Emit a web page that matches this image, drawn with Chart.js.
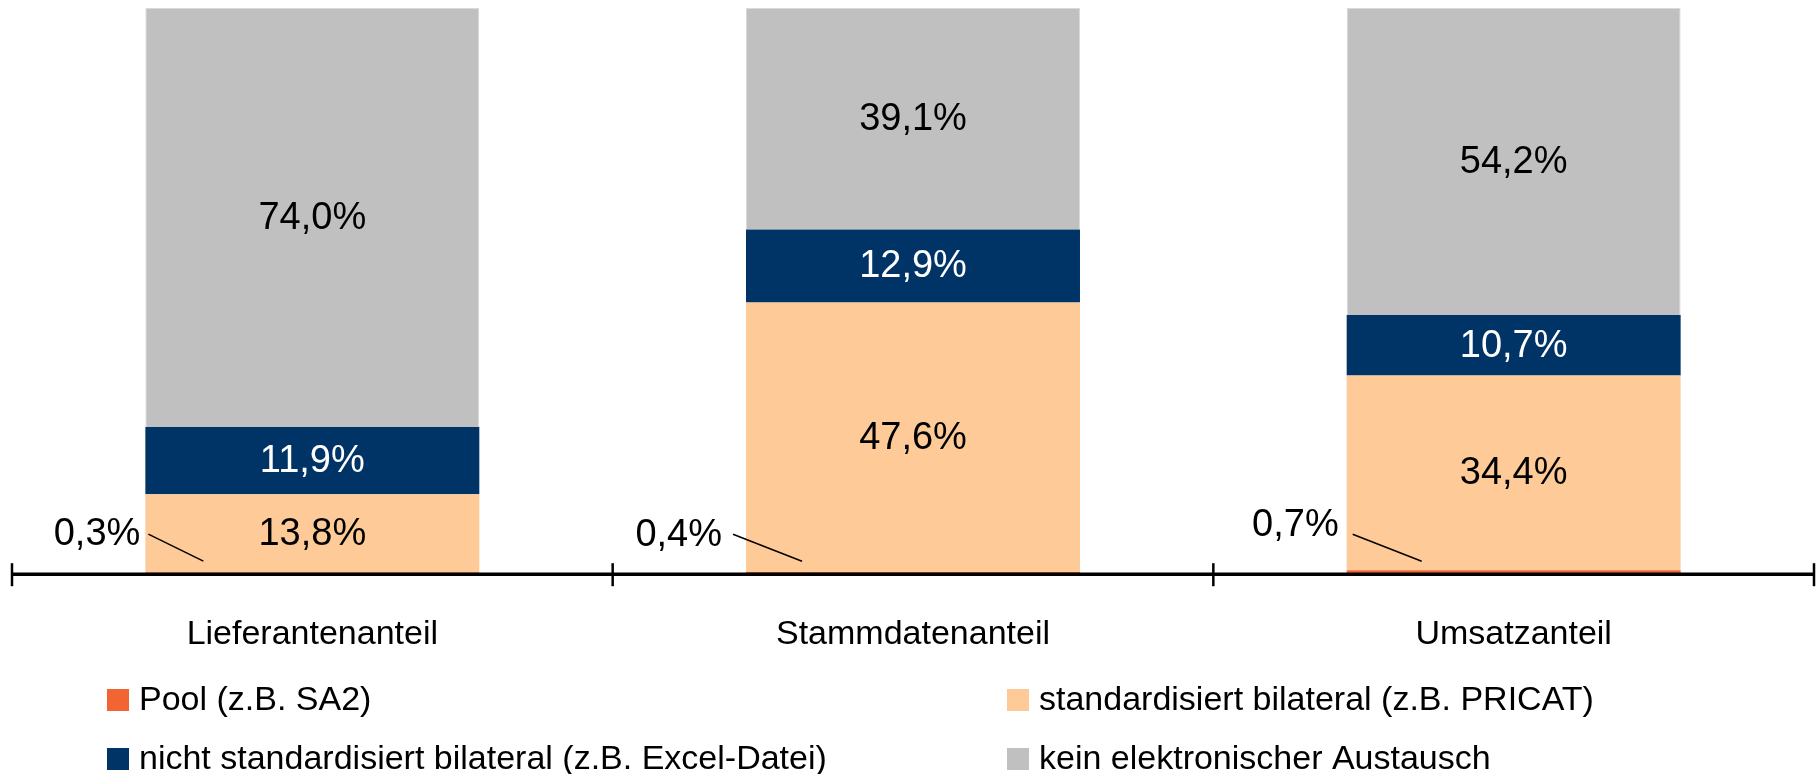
<!DOCTYPE html>
<html lang="de">
<head>
    <meta charset="UTF-8">
    <title>Elektronischer Datenaustausch</title>
    <style>
        html, body { margin: 0; padding: 0; background: #fff; }
        #wrap { width: 1820px; height: 774px; }
    </style>
</head>
<body>
    <div id="wrap"><canvas id="myChart" width="1820" height="774"></canvas></div>

    <script src="https://cdn.jsdelivr.net/npm/chart.js@4/dist/chart.umd.min.js"></script>
    <script>
        // data
        var categories = ['Lieferantenanteil', 'Stammdatenanteil', 'Umsatzanteil'];
        var seriesNames = [
            'Pool (z.B. SA2)',
            'standardisiert bilateral (z.B. PRICAT)',
            'nicht standardisiert bilateral (z.B. Excel-Datei)',
            'kein elektronischer Austausch'
        ];
        var pool = [0.3, 0.4, 0.7];
        var standardBilateral = [13.8, 47.6, 34.4];
        var nonStandardBilateral = [11.9, 12.9, 10.7];
        var noExchange = [74.0, 39.1, 54.2];

        // styling
        var FONT = '"Liberation Sans", Arial, Helvetica, sans-serif';
        var colors = ['#f26532', '#fecb98', '#003366', '#c0c0c0'];
        var labelColors = ['#000', '#000', '#fff', '#000'];
        // hand placed callouts for the tiny pool segments (relative to bar left / baseline)
        var poolCallouts = [
            { tx: -5, ty: -40, x1: 3, x2: 58 },
            { tx: -24, ty: -39, x1: -13, x2: 56 },
            { tx: -8, ty: -49, x1: 6, x2: 75 }
        ];

        function fmt(v) {
            return v.toFixed(1).replace('.', ',') + '%';
        }

        var barLabels = {
            id: 'barLabels',
            afterDatasetsDraw: function (chart) {
                var ctx = chart.ctx;
                var area = chart.chartArea;
                var base = chart.scales.y.getPixelForValue(0);
                var xs = chart.scales.x;

                ctx.save();
                ctx.font = '38px ' + FONT;
                ctx.textBaseline = 'middle';
                chart.data.datasets.forEach(function (ds, di) {
                    var meta = chart.getDatasetMeta(di);
                    meta.data.forEach(function (bar, i) {
                        var text = fmt(ds.data[i]);
                        if (di === 0) {
                            var left = bar.x - bar.width / 2;
                            var o = poolCallouts[i];
                            ctx.strokeStyle = '#000';
                            ctx.lineWidth = 1.5;
                            ctx.beginPath();
                            ctx.moveTo(left + o.x1, base - 40);
                            ctx.lineTo(left + o.x2, base - 13);
                            ctx.stroke();
                            ctx.fillStyle = '#000';
                            ctx.textAlign = 'right';
                            ctx.fillText(text, left + o.tx, base + o.ty);
                        } else {
                            ctx.fillStyle = labelColors[di];
                            ctx.textAlign = 'center';
                            ctx.fillText(text, bar.x, (bar.y + bar.base) / 2 + 1);
                        }
                    });
                });

                // x axis line with tick marks between the categories
                ctx.strokeStyle = '#000';
                ctx.lineWidth = 3.5;
                ctx.beginPath();
                ctx.moveTo(area.left, base);
                ctx.lineTo(area.right, base);
                ctx.stroke();
                var step = (area.right - area.left) / categories.length;
                ctx.lineWidth = 2.5;
                for (var k = 0; k <= categories.length; k++) {
                    var tx = k < categories.length ? xs.getPixelForValue(k) - step / 2 : xs.getPixelForValue(k - 1) + step / 2;
                    ctx.beginPath();
                    ctx.moveTo(tx, base - 11);
                    ctx.lineTo(tx, base + 12);
                    ctx.stroke();
                }
                ctx.restore();
            }
        };

        var gridLegend = {
            id: 'gridLegend',
            afterDraw: function (chart) {
                var ctx = chart.ctx;
                var colX = [107, 1007];
                var rowY = [700, 759];
                ctx.save();
                ctx.font = '34px ' + FONT;
                ctx.textBaseline = 'middle';
                ctx.textAlign = 'left';
                chart.data.datasets.forEach(function (ds, i) {
                    var x = colX[i % 2];
                    var y = rowY[Math.floor(i / 2)];
                    ctx.fillStyle = ds.backgroundColor;
                    ctx.fillRect(x, y - 11, 22, 22);
                    ctx.fillStyle = '#000';
                    ctx.fillText(ds.label, x + 32, y + 1);
                });
                ctx.restore();
            }
        };

        var seriesData = [pool, standardBilateral, nonStandardBilateral, noExchange];

        var ctx = document.getElementById('myChart').getContext('2d');
        var myChart = new Chart(ctx, {
            type: 'bar',
            data: {
                labels: categories,
                datasets: seriesData.map(function (values, i) {
                    return {
                        label: seriesNames[i],
                        data: values,
                        backgroundColor: colors[i],
                        borderColor: i === 3 ? '#dadada' : colors[i],
                        borderWidth: i === 3 ? 1 : 0,
                        barPercentage: 0.556,
                        categoryPercentage: 1
                    };
                })
            },
            options: {
                responsive: false,
                animation: false,
                layout: { padding: { left: 12, right: 6, top: 8, bottom: 79 } },
                plugins: {
                    legend: { display: false },
                    tooltip: { enabled: false }
                },
                scales: {
                    x: {
                        stacked: true,
                        offset: true,
                        grid: { display: false, drawTicks: false },
                        border: { display: false },
                        ticks: {
                            color: '#000',
                            padding: 40,
                            font: { family: FONT, size: 34 }
                        }
                    },
                    y: {
                        stacked: true,
                        display: false,
                        min: 0,
                        max: 100
                    }
                }
            },
            plugins: [barLabels, gridLegend]
        });
    </script>
</body>
</html>
